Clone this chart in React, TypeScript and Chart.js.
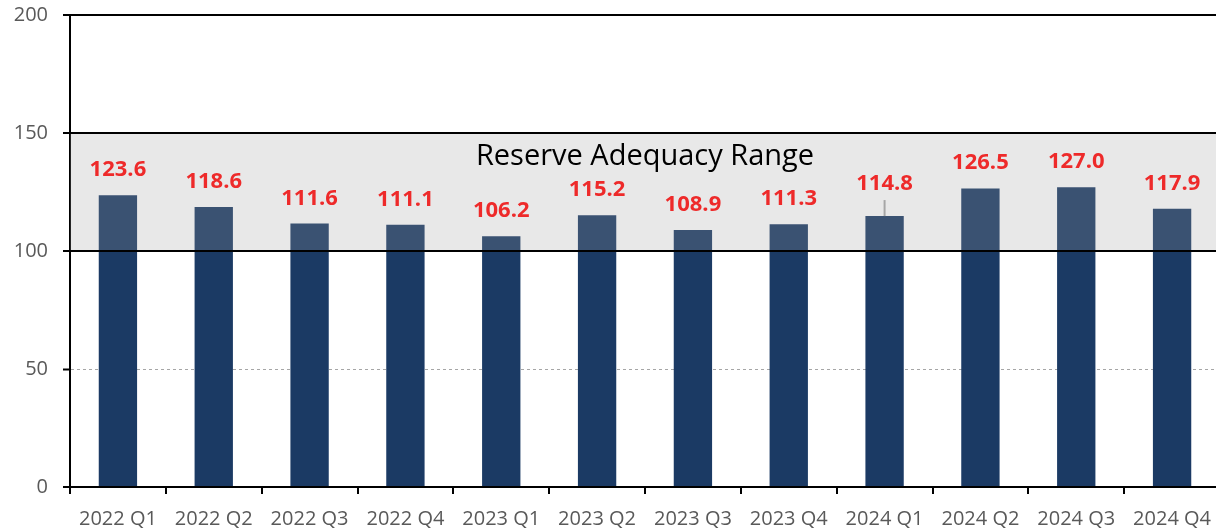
import React, { useEffect, useRef } from "react";
import { Chart, registerables } from "chart.js";

Chart.register(...registerables);

const categories = [
  "2022 Q1", "2022 Q2", "2022 Q3", "2022 Q4",
  "2023 Q1", "2023 Q2", "2023 Q3", "2023 Q4",
  "2024 Q1", "2024 Q2", "2024 Q3", "2024 Q4",
];
const values = [123.6, 118.6, 111.6, 111.1, 106.2, 115.2, 108.9, 111.3, 114.8, 126.5, 127.0, 117.9];
const yTicks = [0, 50, 100, 150, 200];
const rangeLow = 100;
const rangeHigh = 150;
const bandLabel = "Reserve Adequacy Range";
const leaderIndex = 8;

const FONT = "'Open Sans', sans-serif";

const overlayPlugin = {
  id: "overlay",
  afterDatasetsDraw(chart: any) {
    const { ctx, chartArea, scales } = chart;
    const y = scales.y;
    const yTop = y.getPixelForValue(rangeHigh);
    const yBot = y.getPixelForValue(rangeLow);
    ctx.save();
    ctx.fillStyle = "rgba(160,160,160,0.24)";
    ctx.fillRect(chartArea.left, yTop, chartArea.right - chartArea.left, yBot - yTop);
    ctx.strokeStyle = "#000";
    ctx.lineWidth = 2;
    [yTop, yBot].forEach((py: number) => {
      ctx.beginPath();
      ctx.moveTo(chartArea.left, py);
      ctx.lineTo(chartArea.right, py);
      ctx.stroke();
    });
    ctx.fillStyle = "#000";
    ctx.font = `29px ${FONT}`;
    ctx.textAlign = "center";
    ctx.textBaseline = "alphabetic";
    ctx.fillText(bandLabel, (chartArea.left + chartArea.right) / 2, yTop + 32);

    const meta = chart.getDatasetMeta(0);
    ctx.font = `bold 22px ${FONT}`;
    ctx.fillStyle = "#EE2A2A";
    meta.data.forEach((bar: any, i: number) => {
      const extra = i === leaderIndex ? 7 : 0;
      const base = bar.y - 19 - extra;
      ctx.fillText(values[i].toFixed(1), bar.x, base);
      if (i === leaderIndex) {
        ctx.save();
        ctx.strokeStyle = "#A6A6A6";
        ctx.lineWidth = 2;
        ctx.beginPath();
        ctx.moveTo(bar.x, base + 10);
        ctx.lineTo(bar.x, bar.y);
        ctx.stroke();
        ctx.restore();
      }
    });
    ctx.restore();
  },
};

export default function App() {
  const ref = useRef<HTMLCanvasElement>(null);
  useEffect(() => {
    if (!ref.current) return;
    const chart = new Chart(ref.current, {
      type: "bar",
      data: {
        labels: categories,
        datasets: [
          {
            data: values,
            backgroundColor: "#1B3A64",
            barPercentage: 0.4,
            categoryPercentage: 1,
          },
        ],
      },
      options: {
        animation: false,
        responsive: true,
        maintainAspectRatio: false,
        layout: { padding: { top: 15, left: 0, right: 0, bottom: 0 } },
        plugins: { legend: { display: false }, tooltip: { enabled: false } },
        scales: {
          x: {
            grid: {
              offset: true,
              drawOnChartArea: false,
              drawTicks: true,
              tickLength: 7,
              color: "#000",
              lineWidth: 2,
            },
            border: { display: true, color: "#000", width: 2 },
            ticks: {
              color: "#595959",
              font: { family: FONT, size: 20 },
              padding: 13,
              maxRotation: 0,
              autoSkip: false,
            },
            afterFit: (s: any) => {
              s.height = 44;
              s.paddingLeft = 0;
              s.paddingRight = 0;
            },
          },
          y: {
            min: 0,
            max: 200,
            afterBuildTicks: (s: any) => {
              s.ticks = yTicks.map((v) => ({ value: v }));
            },
            grid: {
              color: (c: any) => (c.tick && c.tick.value === 50 ? "#A6A6A6" : "#000"),
              lineWidth: (c: any) => (c.tick && c.tick.value === 50 ? 1 : 2),
              tickColor: "#000",
              tickWidth: 2,
              tickLength: 7,
            },
            border: {
              display: true,
              color: "#000",
              width: 2,
              dash: (c: any) => (c.tick && c.tick.value === 50 ? [3, 3] : []),
            },
            ticks: {
              color: "#595959",
              font: { family: FONT, size: 20 },
              padding: 15,
            },
            afterFit: (s: any) => {
              s.width = 70;
              s.paddingTop = 0;
              s.paddingBottom = 0;
            },
          },
        },
      },
      plugins: [overlayPlugin],
    });
    return () => chart.destroy();
  }, []);
  return (
    <div style={{ position: "fixed", left: 0, top: 0, width: 1216, height: 531, overflow: "hidden", background: "#fff" }}>
      <div style={{ width: 1220, height: 531, position: "relative" }}>
        <canvas ref={ref} />
      </div>
    </div>
  );
}
